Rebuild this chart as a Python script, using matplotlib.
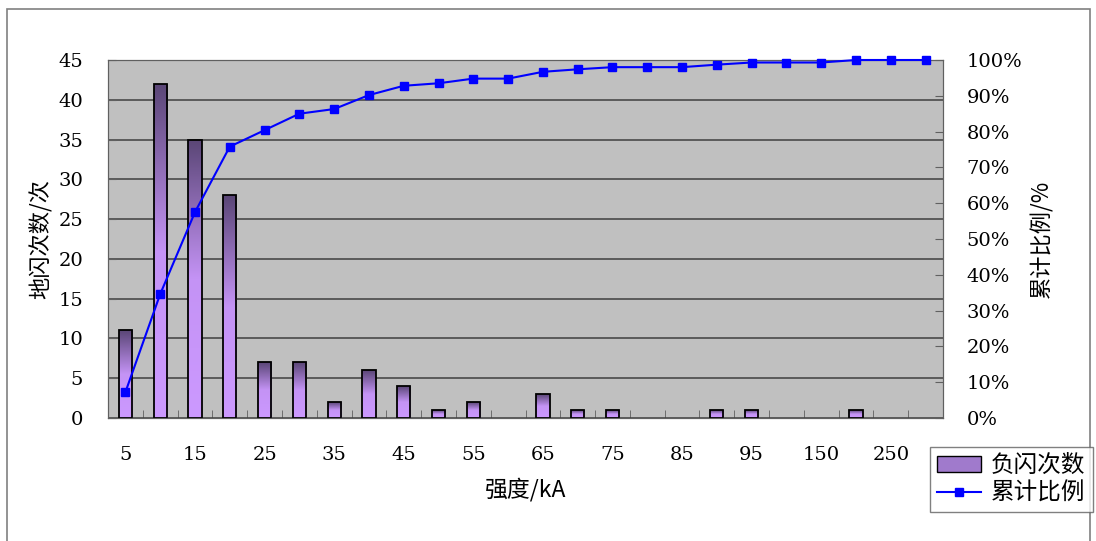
import numpy as np
import matplotlib
matplotlib.use("Agg")
import matplotlib.pyplot as plt
from matplotlib.colors import LinearSegmentedColormap
from matplotlib.patches import Rectangle
from matplotlib.lines import Line2D

plt.rcParams['font.family'] = ['DejaVu Serif', 'Noto Sans CJK SC', 'DejaVu Sans']

categories = ["5", "10", "15", "20", "25", "30", "35", "40", "45", "50",
              "55", "60", "65", "70", "75", "80", "85", "90", "95", "100",
              "150", "200", "250", "300"]
counts = [11, 42, 35, 28, 7, 7, 2, 6, 4, 1, 2, 0, 3, 1, 1, 0, 0, 1, 1, 0,
          0, 1, 0, 0]
cum_pct = [7.2, 34.6, 57.5, 75.8, 80.4, 85.0, 86.3, 90.2, 92.8, 93.5,
           94.8, 94.8, 96.7, 97.4, 98.0, 98.0, 98.0, 98.7, 99.3, 99.3,
           99.3, 100, 100, 100]
left_ticks = [0, 5, 10, 15, 20, 25, 30, 35, 40, 45]
right_ticks = [0, 10, 20, 30, 40, 50, 60, 70, 80, 90, 100]

cjk = ['Noto Sans CJK SC', 'DejaVu Serif']

fig = plt.figure(figsize=(10.96, 5.41), dpi=100)
ax = fig.add_axes([108 / 1096, 1 - 418 / 541, 835 / 1096, 358 / 541])
ax.set_facecolor("#c0c0c0")

x = np.arange(len(categories))
edges = ["black" if c > 0 else "none" for c in counts]
bars = ax.bar(x, counts, width=0.38, facecolor="none", edgecolor=edges,
              linewidth=1.3, zorder=3)

# gradient fill: dark at top, light purple lower down
cmap = LinearSegmentedColormap.from_list("pur", ["#cc99ff", "#c493f5", "#5a4676"])
grad = np.linspace(0, 1, 256).reshape(-1, 1)
for b in bars:
    h = b.get_height()
    if h <= 0:
        continue
    im = ax.imshow(grad, cmap=cmap, aspect="auto", origin="lower",
                   extent=[b.get_x(), b.get_x() + b.get_width(), 0, h],
                   zorder=2)
    im.set_clip_path(b)

ax.set_xlim(-0.5, len(categories) - 0.5)
ax.set_ylim(0, 45)
ax.set_yticks(left_ticks)
ax.set_yticklabels([str(v) for v in left_ticks], fontsize=14)
ax.yaxis.grid(True, color="#404040", linewidth=1.1)
ax.set_axisbelow(True)
ax.tick_params(axis="y", direction="in", length=6, color="#606060", pad=18)

ax.set_xticks(x[::2])
ax.set_xticklabels(categories[::2], fontsize=14)
ax.set_xticks(np.arange(-0.5, len(categories), 1), minor=True)
ax.tick_params(axis="x", which="major", length=0, pad=20)
ax.tick_params(axis="x", which="minor", direction="in", length=6, color="#606060")
for s in ax.spines.values():
    s.set_color("#606060")

ax.set_xlabel("强度/kA", fontsize=16.5, labelpad=10, family=cjk)
ax.set_ylabel("地闪次数/次", fontsize=16, labelpad=4, family=cjk)

ax2 = ax.twinx()
ax2.plot(x, cum_pct, color="#0000ff", linewidth=1.5, marker="s",
         markersize=6, clip_on=False, zorder=5)
ax2.set_ylim(0, 100)
ax2.set_yticks(right_ticks)
ax2.set_yticklabels([f"{v}%" for v in right_ticks], fontsize=14)
ax2.tick_params(axis="y", direction="in", length=6, color="#606060", pad=17)
ax2.set_ylabel("累计比例/%", fontsize=16, rotation=90, labelpad=6, family=cjk)
for s in ax2.spines.values():
    s.set_color("#606060")

handles = [Rectangle((0, 0), 1, 1, facecolor="#a07acc", edgecolor="black"),
           Line2D([], [], color="#0000ff", marker="s", markersize=6, linewidth=1.5)]
leg = fig.legend(handles, ["负闪次数", "累计比例"], loc="upper left",
                 bbox_to_anchor=(930 / 1096, 1 - 447 / 541),
                 prop={"family": cjk, "size": 17},
                 frameon=True, fancybox=False, edgecolor="#606060",
                 borderpad=0.3, handlelength=1.86, handleheight=0.65,
                 labelspacing=0.2, handletextpad=0.42, borderaxespad=0)
leg.get_frame().set_linewidth(1.0)

fig.patches.append(Rectangle((7 / 1096, -0.05), 1083 / 1096, 1.05 - 9 / 541,
                             transform=fig.transFigure, fill=False,
                             edgecolor="#808080", linewidth=1.2))

fig.savefig("out.png", dpi=100)
